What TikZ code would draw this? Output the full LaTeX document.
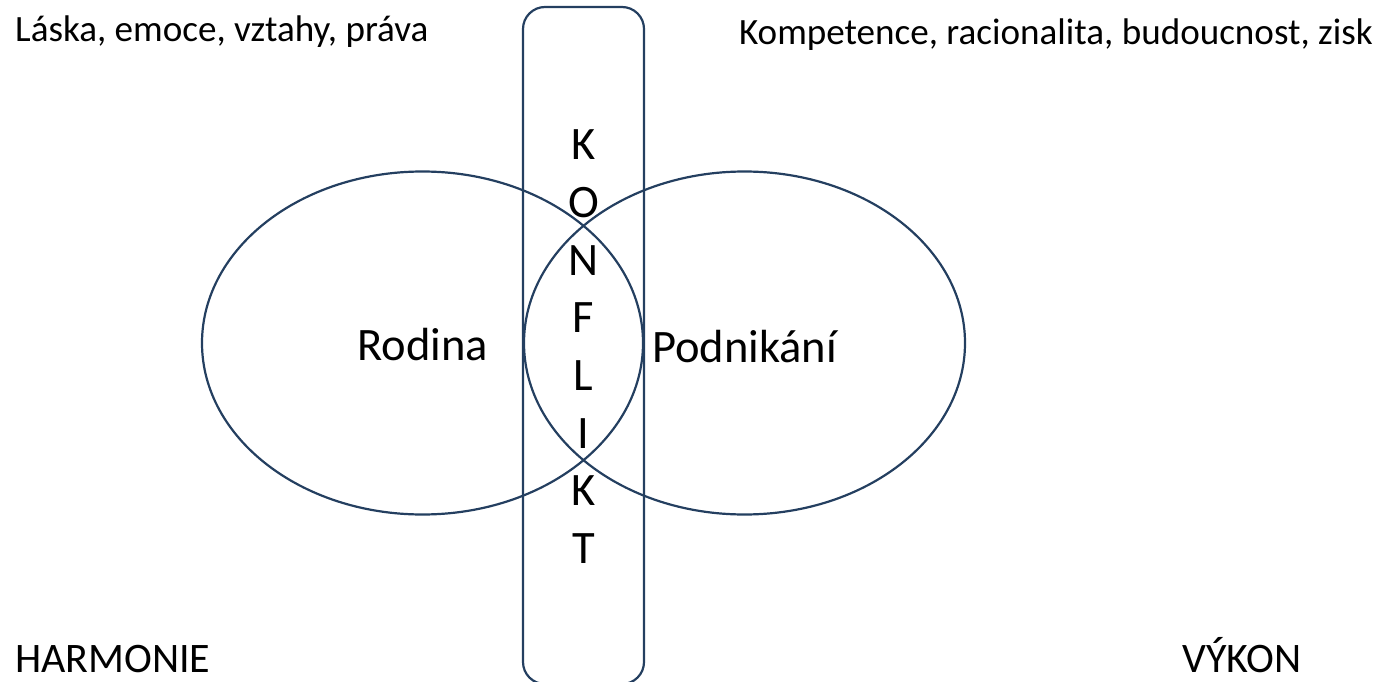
\documentclass[tikz,border=0pt]{standalone}
\usepackage{fontspec}
\setmainfont{Carlito}
\usepackage{tikz}
\usetikzlibrary{shapes.geometric}
\definecolor{linedark}{HTML}{243F60}

\begin{document}
\begin{tikzpicture}[x=1pt,y=-1pt,
    sphere/.style={draw=linedark,line width=2.2pt,ellipse,inner sep=0pt,minimum width=441pt,minimum height=343pt},
    band/.style={draw=linedark,line width=2.2pt,rounded corners=22pt,inner sep=0pt,minimum width=121pt,minimum height=677pt},
    word/.style={inner sep=0pt,font=\fontsize{37.1}{42}\selectfont},
    bigword/.style={inner sep=0pt,font=\fontsize{46.5}{52}\selectfont},
    pole/.style={inner sep=0pt,font=\fontsize{42}{48}\selectfont}]
    \useasboundingbox (0,0) rectangle (1387,682);
    \node[band] at (583.5,345.5) (konflikt) {};
    \node[sphere] at (422.5,343) (rodina) {};
    \node[sphere] at (744.5,343) (podnikani) {};
    \node[bigword,anchor=base] at (422.5,360) (rodinatext) {Rodina};
    \node[bigword,anchor=base] at (744.5,362) (podnikanitext) {Podnikání};
    \foreach \l [count=\i] in {K,O,N,F,L,I,K,T}
        \node[bigword,anchor=base] at (583.5,160+57.6*\i-57.6) (letter\i) {\l};
    \node[word,anchor=base west] at (15,42) (laska) {Láska, emoce, vztahy, práva};
    \node[word,anchor=base east] at (1373,45) (kompetence) {Kompetence, racionalita, budoucnost, zisk};
    \node[pole,anchor=base west] at (15,672) (harmonie) {HARMONIE};
    \node[pole,anchor=base west] at (1182,672) (vykon) {VÝKON};
\end{tikzpicture}
\end{document}
